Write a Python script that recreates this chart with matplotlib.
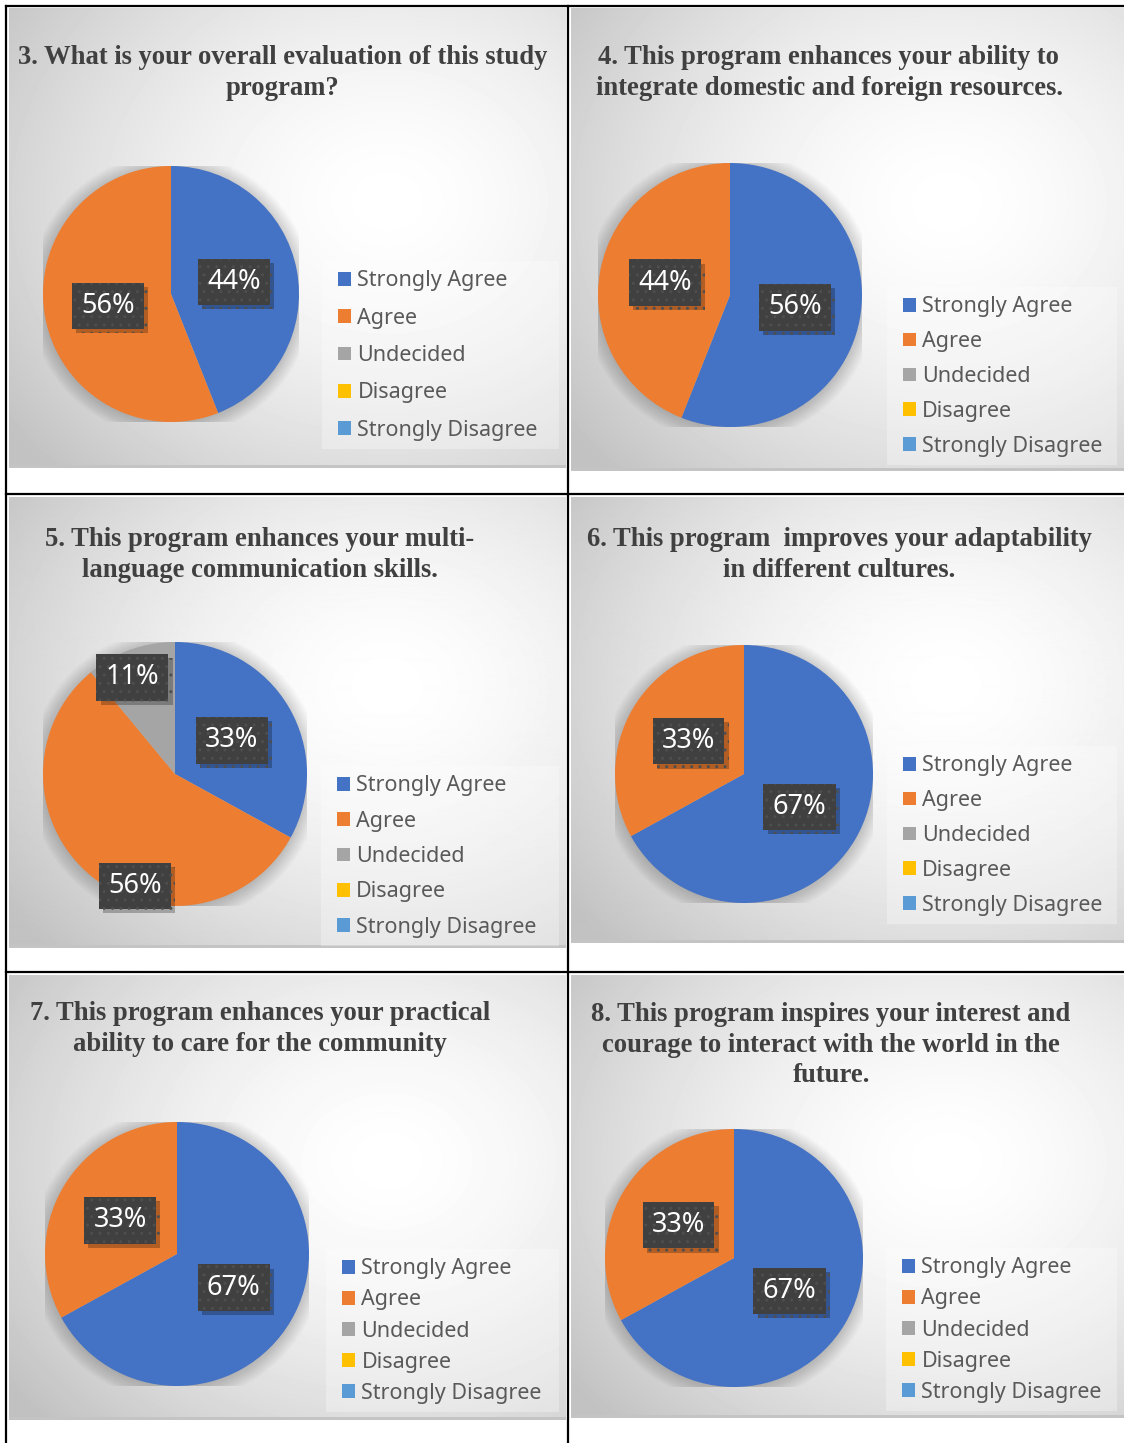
import matplotlib
matplotlib.use("Agg")
import matplotlib.pyplot as plt
import matplotlib.patheffects as pe
import numpy as np
from matplotlib.lines import Line2D
from matplotlib.patches import Circle, Patch, Rectangle

W, H = 1124, 1443

CATEGORIES = ["Strongly Agree", "Agree", "Undecided", "Disagree", "Strongly Disagree"]
COLORS = ["#4472C4", "#ED7D31", "#A5A5A5", "#FFC000", "#5B9BD5"]

TITLES = [
    "3. What is your overall evaluation of this study\nprogram?",
    "4. This program enhances your ability to\nintegrate domestic and foreign resources.",
    "5. This program enhances your multi-\nlanguage communication skills.",
    "6. This program  improves your adaptability\nin different cultures.",
    "7. This program enhances your practical\nability to care for the community",
    "8. This program inspires your interest and\ncourage to interact with the world in the\nfuture.",
]

# percent of answers per category (Strongly Agree .. Strongly Disagree)
q3 = [44, 56, 0, 0, 0]
q4 = [56, 44, 0, 0, 0]
q5 = [33, 56, 11, 0, 0]
q6 = [67, 33, 0, 0, 0]
q7 = [67, 33, 0, 0, 0]
q8 = [67, 33, 0, 0, 0]
VALUES = [q3, q4, q5, q6, q7, q8]

# layout in pixels: panel box, pie centre/radius, title centre, legend anchor
PANELS = [(9, 8, 566, 468), (571, 8, 1124, 471), (9, 497, 566, 948),
          (571, 497, 1124, 943), (9, 975, 566, 1420), (571, 975, 1124, 1418)]
PIES = [(171, 294, 128), (730, 295, 132), (175, 774, 132),
        (744, 774, 129), (177, 1254, 132), (734, 1258, 129)]
TITLE_POS = [(283, 73), (829, 73), (260, 555), (839, 555), (260, 1029), (831, 1045)]
LEGEND_POS = [(338, 278, 38), (903, 304, 35.5), (337, 783, 36),
              (903, 763, 35.5), (342, 1266, 31.8), (902, 1265, 31.8)]
# (radius fraction, angle nudge) for the data labels, Excel "best fit"
LABEL_PLACE = [
    [(0.5, 0), (0.5, 0)],
    [(0.5, 0), (0.5, 0)],
    [(0.5, 0), (0.9, 20), (0.8, 4)],
    [(0.5, 0), (0.5, 0)],
    [(0.5, 0), (0.5, 0)],
    [(0.5, 0), (0.5, 0)],
]


def fig_rect(x0, y0, x1, y1):
    return [x0 / W, 1 - y1 / H, (x1 - x0) / W, (y1 - y0) / H]


def gradient(w, h):
    xs = np.linspace(0, 1, w)
    ys = np.linspace(0, 1, h)
    gx, gy = np.meshgrid(xs, ys)
    d = np.sqrt((gx - 0.68) ** 2 + (gy - 0.42) ** 2) / 0.8
    return np.clip(1 - 0.22 * d ** 1.6, 0.76, 1.0)


fig = plt.figure(figsize=(W / 100, H / 100), dpi=100, facecolor="white")

for i, (title, values) in enumerate(zip(TITLES, VALUES)):
    x0, y0, x1, y1 = PANELS[i]
    pw, ph = x1 - x0, y1 - y0

    bg = fig.add_axes(fig_rect(x0, y0, x1, y1), zorder=0)
    bg.imshow(gradient(pw, ph), cmap="gray", vmin=0, vmax=1,
              extent=(0, pw, ph, 0), aspect="auto", interpolation="bilinear")
    bg.add_patch(Rectangle((0, ph - 3), pw, 3, color="#c4c4c4", lw=0))
    lx, ly, pitch = LEGEND_POS[i]
    bg.add_patch(Rectangle((lx - x0 - 16, ly - y0 - 17), x1 - 7 - (lx - 16),
                           pitch * 4 + 36, color="white", alpha=0.3, lw=0))
    bg.set_xlim(0, pw)
    bg.set_ylim(ph, 0)
    bg.axis("off")

    cx, cy, r = PIES[i]
    ax = fig.add_axes(fig_rect(cx - r, cy - r, cx + r, cy + r), zorder=2)
    for k in range(12):
        ax.add_patch(Circle((0, -0.01), 1.0 + 0.01 * k, color="black",
                            alpha=0.016, lw=0, zorder=0))
    wedges, _ = ax.pie(values, colors=COLORS, startangle=90, counterclock=False,
                       radius=1, wedgeprops=dict(linewidth=0))
    for w in wedges:
        w.set_zorder(2)

    shown = [(w, v) for w, v in zip(wedges, values) if v > 0]
    for (w, v), (frac, nudge) in zip(shown, LABEL_PLACE[i]):
        ang = np.deg2rad((w.theta1 + w.theta2) / 2 + nudge)
        t = ax.text(frac * np.cos(ang), frac * np.sin(ang), f"{v}%",
                    ha="center", va="center", color="white", fontsize=19.5,
                    family="Noto Sans", zorder=5, clip_on=False,
                    bbox=dict(boxstyle="square,pad=0.34", fc="#404040",
                              ec="#4e4e4e", lw=0, hatch=".."))
        t.get_bbox_patch().set_path_effects(
            [pe.withSimplePatchShadow(offset=(3, -3), shadow_rgbFace="black", alpha=0.25)])
    ax.set_xlim(-1, 1)
    ax.set_ylim(-1, 1)
    ax.axis("off")

    tx, ty = TITLE_POS[i]
    fig.text(tx / W, 1 - ty / H, title, ha="center", va="center", multialignment="center",
             family="Liberation Serif", weight="bold", fontsize=19.2, color="#404040",
             linespacing=1.3, zorder=3)

    handles = [Patch(facecolor=c, edgecolor="none") for c in COLORS]
    fs_px = 15.5 * 100 / 72
    leg = fig.legend(handles, CATEGORIES, loc="center left",
                     bbox_to_anchor=(lx / W, 1 - (ly + 2 * pitch + 1.5) / H),
                     frameon=False, labelcolor="#595959",
                     handlelength=0.6, handleheight=0.6, handletextpad=0.3,
                     borderpad=0, borderaxespad=0,
                     labelspacing=(pitch - 21.7) / fs_px,
                     prop={"family": "Noto Sans", "size": 15.5})
    leg.set_zorder(4)

# table rules
rules = [((6, 6), (6, H)), ((568, 568), (6, H)), ((6, W), (6, 6)),
         ((6, W), (494, 494)), ((6, W), (972, 972))]
for xs, ys in rules:
    fig.add_artist(Line2D([x / W for x in xs], [1 - y / H for y in ys],
                          color="black", lw=1.6, zorder=10))

fig.savefig("out.png", dpi=100, facecolor="white")
